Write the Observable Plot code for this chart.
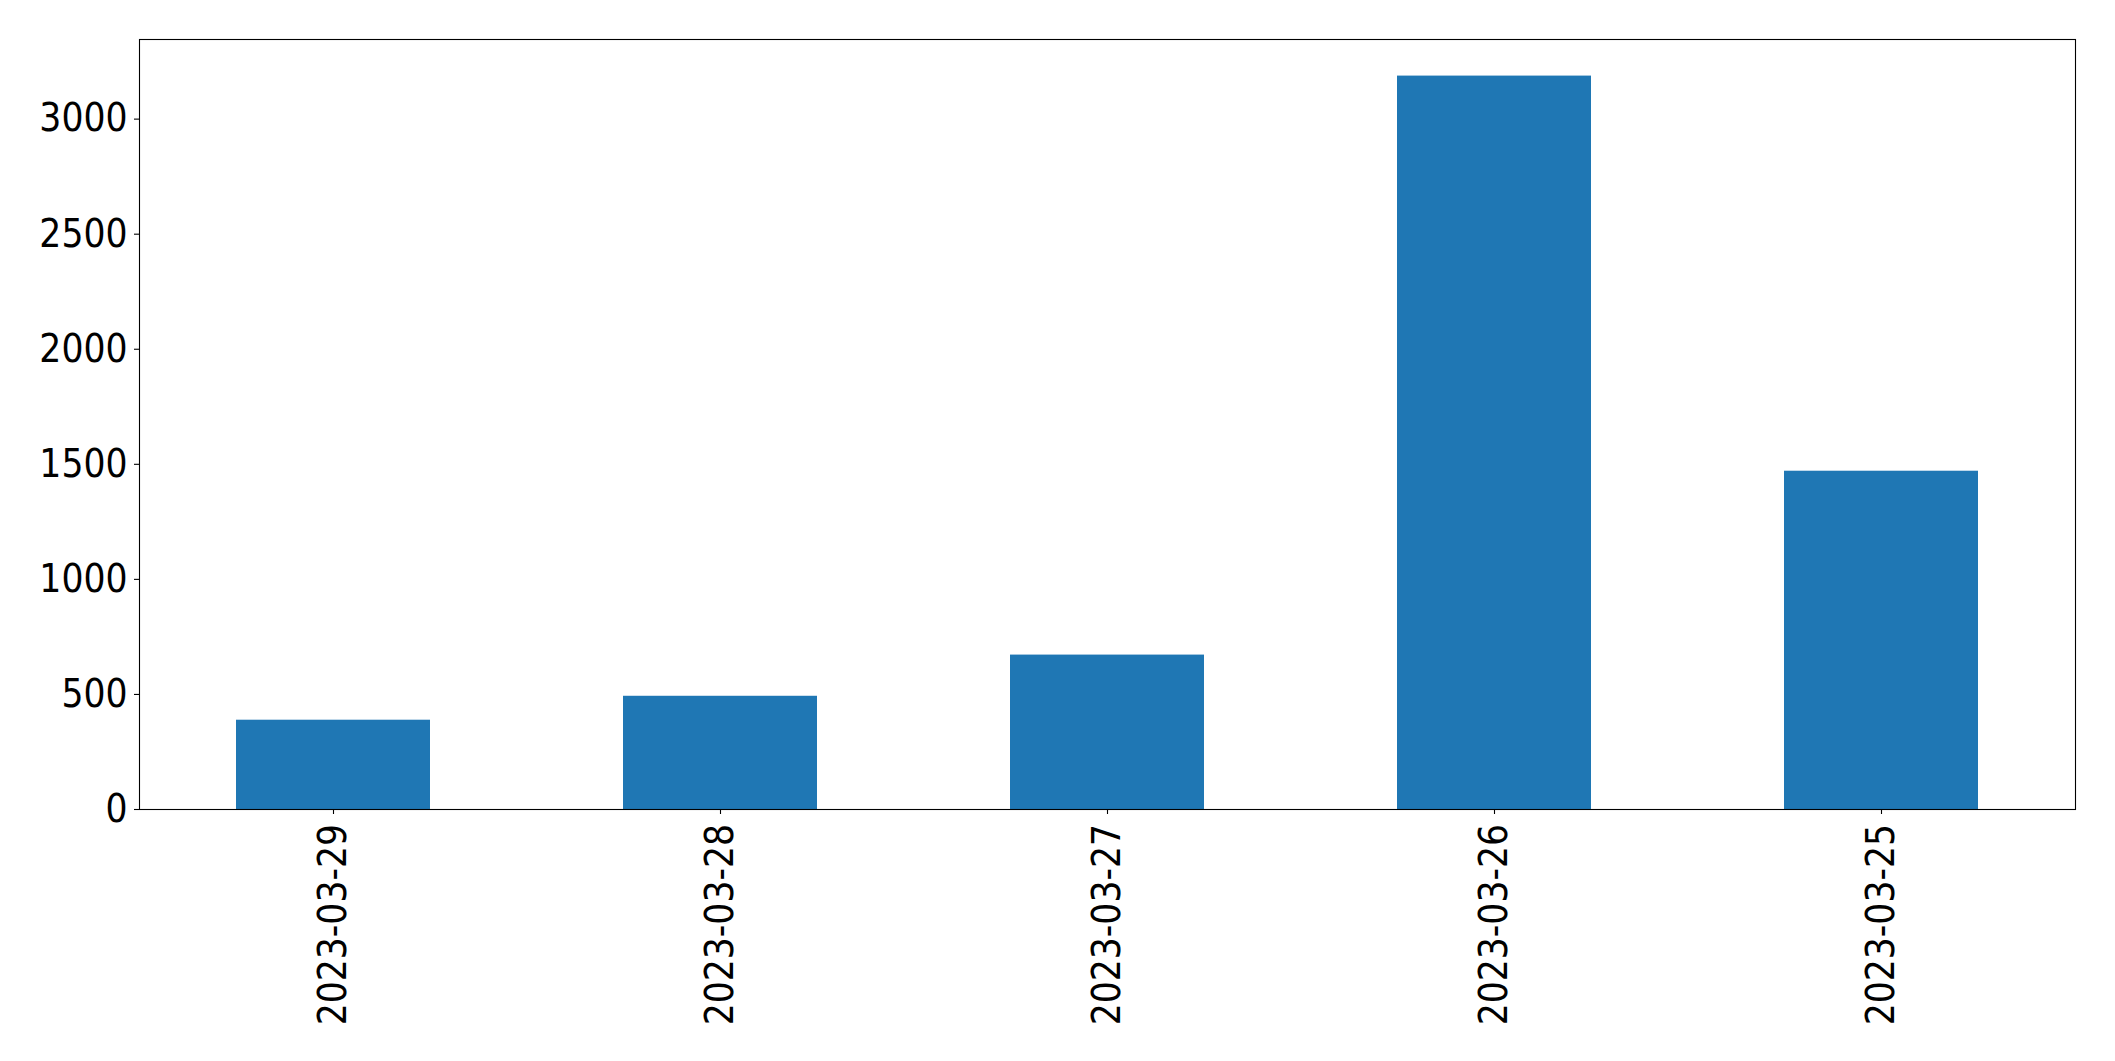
<!DOCTYPE html>
<html><head><meta charset="utf-8">
<script src="https://cdn.jsdelivr.net/npm/d3@7"></script>
<script src="https://cdn.jsdelivr.net/npm/@observablehq/plot@0.6"></script>
<style>html,body{margin:0;padding:0;background:#fff;overflow:hidden}</style>
</head><body><div id="chart"></div>
<script>
const dates = ["2023-03-29", "2023-03-28", "2023-03-27", "2023-03-26", "2023-03-25"];
const counts = [388, 492, 671, 3187, 1470];
const yTicks = [0, 500, 1000, 1500, 2000, 2500, 3000];

const data = dates.map((d, i) => ({date: d, count: counts[i]}));

const chart = Plot.plot({
  width: 2115,
  height: 1061,
  marginLeft: 139,
  marginRight: 40,
  marginTop: 39,
  marginBottom: 252,
  style: {fontFamily: "'DejaVu Sans Condensed', 'DejaVu Sans', sans-serif", fontSize: "38.5px", color: "black", background: "white"},
  x: {domain: dates, paddingInner: 0.5, paddingOuter: 0.25},
  y: {domain: [0, 3346]},
  marks: [
    Plot.barY(data, {x: "date", y: "count", fill: "#1f77b4"}),
    Plot.frame({stroke: "black", strokeWidth: 1.1}),
    Plot.axisY({ticks: yTicks, tickFormat: d => String(d), tickSize: 5, tickPadding: 7, fontSize: 38.5, label: null, stroke: "black", strokeWidth: 1.1}),
    Plot.axisX({tickRotate: -90, tickSize: 5, tickPadding: 9.5, fontSize: 38.5, label: null, stroke: "black", strokeWidth: 1.1})
  ]
});
document.getElementById("chart").appendChild(chart);
</script>
</body></html>
